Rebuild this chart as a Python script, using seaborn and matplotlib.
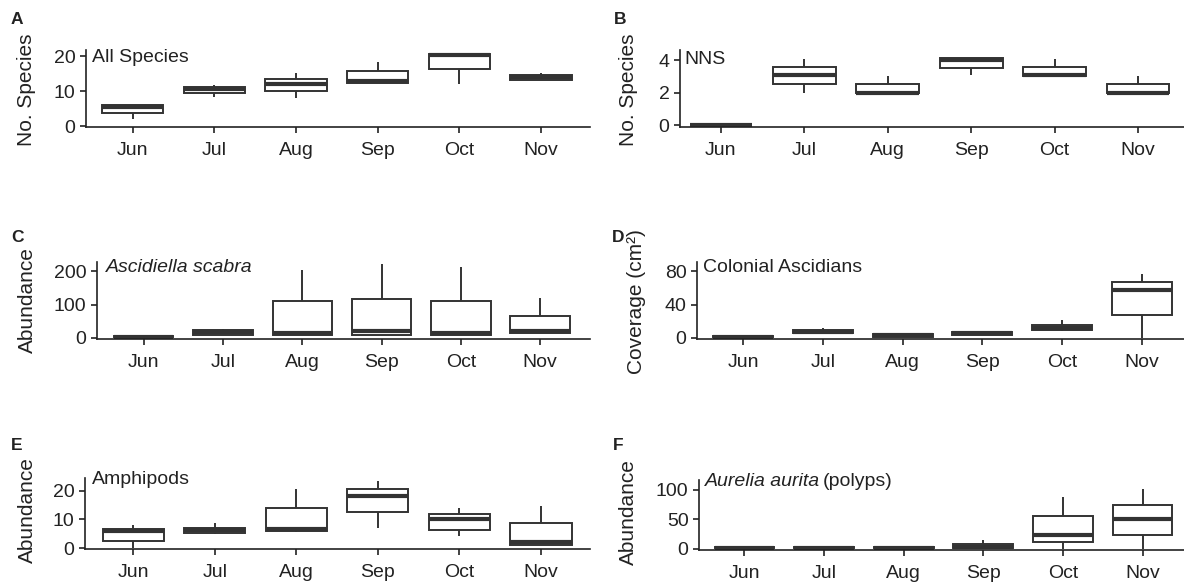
import numpy as np
import pandas as pd
import matplotlib
matplotlib.use('Agg')
import matplotlib.pyplot as plt
import seaborn as sns

months = ['Jun', 'Jul', 'Aug', 'Sep', 'Oct', 'Nov']

# five-number summaries per month: min, Q1, median, Q3, max
all_species = [[2.0, 3.8, 5.4, 6.2, 6.2], [8.3, 9.4, 10.6, 11.3, 11.8],
               [8.0, 10.0, 12.0, 13.5, 15.3], [12.3, 12.3, 13.0, 15.9, 18.3],
               [12.0, 16.4, 20.3, 20.8, 20.8], [13.3, 13.3, 14.0, 14.7, 15.2]]
nns = [[0, 0, 0, 0, 0], [2.0, 2.5, 3.1, 3.55, 4.05],
       [2.0, 2.0, 2.0, 2.55, 3.05], [3.1, 3.5, 4.0, 4.1, 4.1],
       [3.0, 3.0, 3.1, 3.55, 4.05], [2.0, 2.0, 2.0, 2.55, 3.05]]
ascidiella = [[2, 3, 4, 5, 6], [8, 10, 17, 24, 26],
              [8, 8, 15, 110, 203], [8, 10, 22, 117, 222],
              [8, 8, 15, 110, 213], [14, 16, 21, 67, 118]]
colonial = [[1, 1, 1.5, 2, 2], [6, 6, 7.5, 9, 11.5],
            [1, 1, 3, 5, 5], [3.6, 3.6, 5.5, 7, 7],
            [8, 9, 12.5, 15.5, 21], [0, 27, 57, 67, 77]]
amphipods = [[0, 2.3, 6, 6.6, 8], [4.9, 5.2, 6.2, 7.0, 8.8],
             [5.5, 5.8, 6.8, 14, 20.8], [7, 12.6, 18.4, 20.7, 23.4],
             [4.3, 6.3, 10.3, 12, 14], [1, 1, 2, 8.6, 14.6]]
aurelia = [[1.5, 1.5, 2, 2.5, 2.5], [1.5, 1.5, 2, 2.5, 2.5],
           [1.5, 1.5, 2, 2.5, 2.5], [1.5, 1.6, 3.5, 9, 15],
           [0, 12, 24, 56, 88], [0, 24, 51, 74, 101]]

W, H = 1184, 587
sns.set_style('ticks')
plt.rcParams['font.family'] = ['Liberation Sans', 'DejaVu Sans']
plt.rcParams['font.size'] = 14
plt.rcParams['text.color'] = '#222222'
plt.rcParams['axes.labelcolor'] = '#222222'
plt.rcParams['xtick.color'] = '#222222'
plt.rcParams['ytick.color'] = '#222222'
dark = '#333333'

fig = plt.figure(figsize=(W / 100, H / 100), dpi=100)


def fx(x, y):
    return x / W, 1 - y / H


# panel layout in pixels: (left, top, right, bottom) of the axes
panels = [
    dict(letter='A', data=all_species, label='All Species', ylabel='No. Species',
         rect=(86, 50, 590, 127), xlim=(-0.57, 5.6), ylim=(-0.2, 21.8), yticks=[0, 10, 20],
         lpos=(92, 57), letpos=(11, 20), ylpos=(27, 90)),
    dict(letter='B', data=nns, label='NNS', ylabel='No. Species',
         rect=(680, 50, 1184, 127), xlim=(-0.49, 5.55), ylim=(-0.12, 4.62), yticks=[0, 2, 4],
         lpos=(684, 59), letpos=(614, 20), ylpos=(628, 90)),
    dict(letter='C', data=ascidiella, label='Ascidiella scabra', ylabel='Abundance',
         rect=(97, 262, 590, 339), xlim=(-0.59, 5.63), ylim=(-3, 227), yticks=[0, 100, 200],
         lpos=(106, 268), letpos=(11, 237), ylpos=(27, 300), italic=True),
    dict(letter='D', data=colonial, label='Colonial Ascidians', ylabel='Coverage (cm²)',
         rect=(697, 262, 1184, 339), xlim=(-0.58, 5.53), ylim=(-1.2, 90.8), yticks=[0, 40, 80],
         lpos=(703, 268), letpos=(612, 237), ylpos=(637, 302)),
    dict(letter='E', data=amphipods, label='Amphipods', ylabel='Abundance',
         rect=(85, 478, 590, 549), xlim=(-0.59, 5.6), ylim=(-0.35, 24.55), yticks=[0, 10, 20],
         lpos=(92, 479), letpos=(11, 446), ylpos=(27, 510)),
    dict(letter='F', data=aurelia, label='Aurelia aurita', ylabel='Abundance',
         rect=(699, 480, 1184, 550), xlim=(-0.57, 5.52), ylim=(-2, 116.6), yticks=[0, 50, 100],
         lpos=(705, 482), letpos=(613, 446), ylpos=(628, 512), italic=True, extra='(polyps)'),
]

for p in panels:
    l, t, r, b = p['rect']
    ax = fig.add_axes([l / W, 1 - b / H, (r - l) / W, (b - t) / H])
    df = pd.DataFrame({'month': np.repeat(months, 5),
                       'value': np.concatenate(p['data'])})
    sns.boxplot(data=df, x='month', y='value', order=months, ax=ax,
                color='white', linecolor=dark, linewidth=1.4, width=0.75,
                whis=(0, 100), showcaps=False, showfliers=False,
                medianprops=dict(linewidth=3.0, color=dark))
    ax.set_xlim(*p['xlim'])
    ax.set_ylim(*p['ylim'])
    ax.set_yticks(p['yticks'])
    ax.set_xlabel('')
    ax.set_ylabel(p['ylabel'], fontsize=15, va='center')
    ax.yaxis.set_label_coords(*fx(*p['ylpos']), transform=fig.transFigure)
    sns.despine(ax=ax)
    for s in ['left', 'bottom']:
        ax.spines[s].set_linewidth(1.2)
        ax.spines[s].set_color('#222222')
    ax.tick_params(axis='x', length=4.5, width=1.2, pad=6, labelsize=14)
    ax.tick_params(axis='y', length=4.5, width=1.2, pad=3, labelsize=14)
    ax.patch.set_alpha(0)

    lx, ly = fx(*p['lpos'])
    txt = fig.text(lx, ly, p['label'], fontsize=14, va='center', ha='left',
                   style='italic' if p.get('italic') else 'normal')
    if p.get('extra'):
        ax.annotate(p['extra'], xy=(1, 0), xycoords=txt, xytext=(2, 0),
                    textcoords='offset points', va='bottom', ha='left', fontsize=14)
    fig.text(*fx(*p['letpos']), p['letter'], fontsize=12.5, fontweight='bold',
             va='center', ha='left')

fig.savefig('out.png', dpi=100)
